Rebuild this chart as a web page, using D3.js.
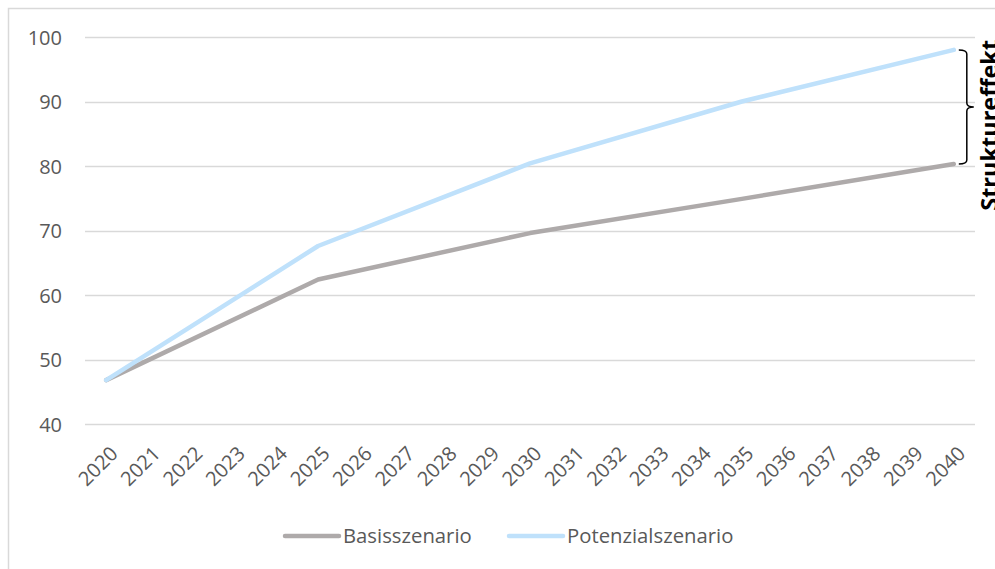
<!DOCTYPE html>
<html>
<head>
<meta charset="utf-8">
<script src="https://cdn.jsdelivr.net/npm/d3@7"></script>
<style>
  html, body { margin: 0; padding: 0; background: #ffffff; }
  svg { display: block; font-family: "Open Sans", "Noto Sans", sans-serif; }
</style>
</head>
<body>
<svg id="chart" width="995" height="569"></svg>
<script>
// Category labels along the x axis
const years = ["2020","2021","2022","2023","2024","2025","2026","2027","2028","2029","2030",
               "2031","2032","2033","2034","2035","2036","2037","2038","2039","2040"];
// Years at which the scenario paths change slope
const keyYears = ["2020","2025","2030","2035","2040"];
const basisValues = [46.8, 62.4, 69.6, 74.9, 80.3];
const potenzialValues = [46.8, 67.6, 80.4, 90.0, 98.0];
const yTicks = [40, 50, 60, 70, 80, 90, 100];
const seriesNames = ["Basisszenario", "Potenzialszenario"];
const bracketLabel = "Struktureffekt";

const colors = { basis: "#aeaaaa", potenzial: "#bfe1fb", grid: "#d9d9d9", text: "#595959" };
const labelSize = "20px";

const svg = d3.select("#chart");

// chart frame
svg.append("rect")
  .attr("x", 8.5).attr("y", 8.5)
  .attr("width", 1100).attr("height", 700)
  .attr("fill", "none").attr("stroke", colors.grid).attr("stroke-width", 1.5);

const x = d3.scaleBand().domain(years).range([85, 975]).padding(0);
const cx = d => x(d) + x.bandwidth() / 2;
const y = d3.scaleLinear().domain([40, 100]).range([424, 37]);

// horizontal gridlines
svg.append("g").selectAll("line").data(yTicks).join("line")
  .attr("x1", 85).attr("x2", 975)
  .attr("y1", d => Math.round(y(d)) + 0.5).attr("y2", d => Math.round(y(d)) + 0.5)
  .attr("stroke", colors.grid).attr("stroke-width", 1.5);

// y axis labels
const yAxis = d3.axisLeft(y).tickValues(yTicks).tickSize(0).tickPadding(0);
const gy = svg.append("g").attr("transform", "translate(62,0)").call(yAxis);
gy.select(".domain").remove();
gy.selectAll("text")
  .attr("fill", colors.text).attr("font-size", labelSize)
  .attr("font-family", "'Open Sans', sans-serif")
  .attr("dy", "0.35em");

// x axis labels, rotated
const xAxis = d3.axisBottom(x).tickSize(0).tickPadding(0);
const gx = svg.append("g").call(xAxis);
gx.select(".domain").remove();
gx.selectAll(".tick").attr("transform", d => `translate(${cx(d) + 3},445)`);
gx.selectAll("text")
  .attr("fill", colors.text).attr("font-size", labelSize)
  .attr("font-family", "'Open Sans', sans-serif")
  .attr("text-anchor", "end")
  .attr("y", 0).attr("dy", "0.7em")
  .attr("transform", "rotate(-45)");

// series lines
const line = d3.line().x((d, i) => cx(keyYears[i])).y(d => y(d));
svg.append("path").datum(basisValues)
  .attr("d", line).attr("fill", "none")
  .attr("stroke", colors.basis).attr("stroke-width", 4.5)
  .attr("stroke-linecap", "round").attr("stroke-linejoin", "round");
svg.append("path").datum(potenzialValues)
  .attr("d", line).attr("fill", "none")
  .attr("stroke", colors.potenzial).attr("stroke-width", 4.5)
  .attr("stroke-linecap", "round").attr("stroke-linejoin", "round");

// curly brace spanning the gap between the two scenarios in the final year
const lastYear = keyYears[keyYears.length - 1];
const bTop = y(potenzialValues[potenzialValues.length - 1]);
const bBot = y(basisValues[basisValues.length - 1]);
const bMid = (bTop + bBot) / 2;
const bx0 = cx(lastYear) + 5, bx1 = bx0 + 8, bTip = bx1 + 7;
const r = 4;
const brace = d3.path();
brace.moveTo(bx0, bTop);
brace.quadraticCurveTo(bx1, bTop, bx1, bTop + r);
brace.lineTo(bx1, bMid - r);
brace.quadraticCurveTo(bx1, bMid, bTip, bMid);
brace.quadraticCurveTo(bx1, bMid, bx1, bMid + r);
brace.lineTo(bx1, bBot - r);
brace.quadraticCurveTo(bx1, bBot, bx0, bBot);
svg.append("path").attr("d", brace.toString())
  .attr("fill", "none").attr("stroke", "#000").attr("stroke-width", 1.5);

svg.append("text")
  .attr("transform", `translate(998,${bTop - 10}) rotate(-90)`)
  .attr("text-anchor", "end")
  .attr("font-size", "23.5px").attr("font-weight", "bold")
  .attr("font-family", "'Open Sans', sans-serif")
  .attr("fill", "#000")
  .text(bracketLabel);

// legend
const legend = [
  { name: seriesNames[0], color: colors.basis, x: 283 },
  { name: seriesNames[1], color: colors.potenzial, x: 507 }
];
const lg = svg.append("g").selectAll("g").data(legend).join("g")
  .attr("transform", d => `translate(${d.x},536)`);
lg.append("line").attr("x1", 2).attr("x2", 56).attr("y1", 0).attr("y2", 0)
  .attr("stroke", d => d.color).attr("stroke-width", 4.5).attr("stroke-linecap", "round");
lg.append("text").attr("x", 60).attr("dy", "0.35em")
  .attr("fill", colors.text).attr("font-size", "20.3px")
  .attr("font-family", "'Open Sans', sans-serif")
  .text(d => d.name);
</script>
</body>
</html>
